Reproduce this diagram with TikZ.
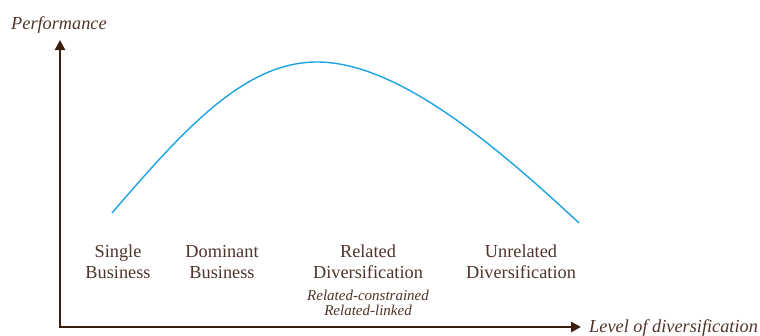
\documentclass[tikz,border=0pt]{standalone}
\usepackage{fontspec}
\setmainfont{Liberation Serif}
\usetikzlibrary{positioning}
\usetikzlibrary{arrows.meta}

\definecolor{axisbrown}{RGB}{60,30,16}
\definecolor{textbrown}{RGB}{78,52,42}
\definecolor{curveblue}{RGB}{28,163,226}

\begin{document}
\begin{tikzpicture}[
		x=1pt, y=-1pt,
		axis/.style={
			draw=axisbrown,
			line width=2.8pt,
			-{Triangle[length=10pt,width=10pt]}
		},
		stage/.style={
			text=textbrown,
			font={\fontsize{18.3}{21}\selectfont},
			align=center,
			inner sep=0pt,
			anchor=north
		},
		kind/.style={
			text=textbrown,
			font={\fontsize{15}{15}\selectfont\itshape},
			align=center,
			inner sep=0pt,
			anchor=north
		},
		axislabel/.style={
			text=textbrown,
			font={\fontsize{18.3}{21}\selectfont\itshape},
			inner sep=0pt,
			anchor=base west
		}
		]
		
		\useasboundingbox (0,0) rectangle (760,335);
		
		\coordinate (origin) at (60,327);
		\coordinate (ytop) at (60,40);
		\coordinate (xend) at (581,327);
		
		\node[axislabel] (performance) at (11,29) {Performance};
		\node[axislabel] (level) at (589,332) {Level of diversification};
		
		\node[stage] (single) at (118,245) {Single\\Business};
		\node[stage] (dominant) at (222,245) {Dominant\\Business};
		\node[stage] (related) at (368,245) {Related\\Diversification};
		\node[stage] (unrelated) at (521,245) {Unrelated\\Diversification};
		
		\node[kind, below=10.5pt of related] (relatedkinds)
		{Related-constrained\\
			Related-linked};
		
		\coordinate (cstart) at (112,213);
		\coordinate (cpeak) at (317,62);
		\coordinate (cend) at (579,223);
		
		%%%%%%%%%%
		
		\draw[axis] ([yshift=1.4pt]origin) -- (ytop);
		\draw[axis] ([xshift=-1.4pt]origin) -- (xend);
		
		\draw[curveblue, line width=1.4pt] (cstart)
		.. controls (185,128) and (245,62) .. (cpeak)
		.. controls (395,62) and (490,140) .. (cend);
		
	\end{tikzpicture}
\end{document}
